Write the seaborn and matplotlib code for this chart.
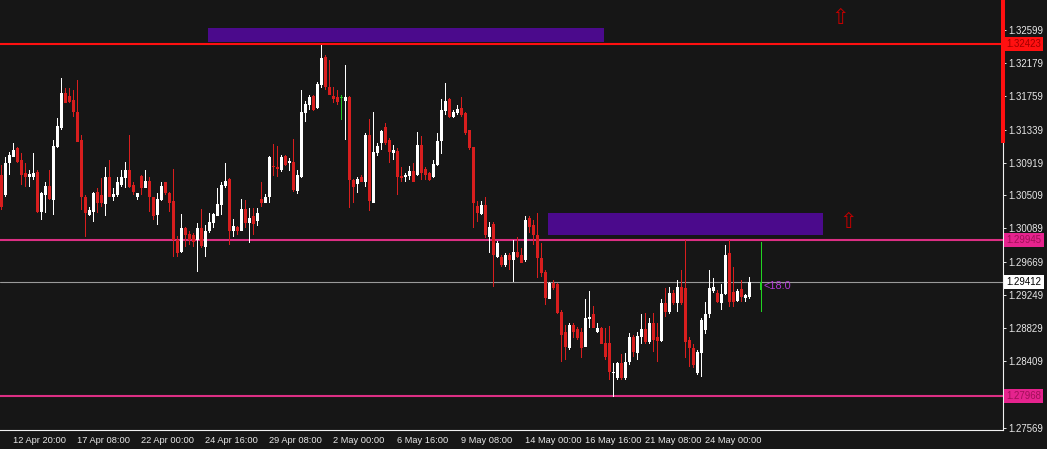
import numpy as np
import pandas as pd
import matplotlib
matplotlib.use("Agg")
import matplotlib.pyplot as plt
import matplotlib.transforms as mtransforms
from matplotlib.patches import Rectangle
import seaborn as sns

# H4 candles (open, high, low, close)
opens = [1.3077, 1.3051, 1.3092, 1.3099, 1.3111, 1.3096, 1.3079, 1.3074, 1.3074, 1.3080,
         1.3030, 1.3051, 1.3063, 1.3045, 1.3112, 1.3136, 1.3180, 1.3177, 1.3171, 1.3156,
         1.3121, 1.3048, 1.3026, 1.3030, 1.3055, 1.3051, 1.3040, 1.3074, 1.3049, 1.3051,
         1.3064, 1.3073, 1.3083, 1.3064, 1.3049, 1.3075, 1.3060, 1.3069, 1.3048, 1.3026,
         1.3045, 1.3067, 1.3054, 1.3043, 1.2994, 1.2979, 1.3010, 1.3002, 1.3000, 1.2994,
         1.3010, 1.2985, 1.3005, 1.3016, 1.3025, 1.3039, 1.3063, 1.3072, 1.3005, 1.3011,
         1.3005, 1.3034, 1.3016, 1.3025, 1.3018, 1.3046, 1.3041, 1.3048, 1.3088, 1.3087,
         1.3083, 1.3101, 1.3092, 1.3093, 1.3056, 1.3074, 1.3155, 1.3165, 1.3177, 1.3161,
         1.3190, 1.3226, 1.3188, 1.3177, 1.3175, 1.3174, 1.3170, 1.3175, 1.3070, 1.3065,
         1.3074, 1.3068, 1.3127, 1.3041, 1.3104, 1.3117, 1.3137, 1.3121, 1.3104, 1.3107,
         1.3075, 1.3074, 1.3075, 1.3082, 1.3077, 1.3115, 1.3084, 1.3079, 1.3074, 1.3089,
         1.3120, 1.3158, 1.3173, 1.3150, 1.3155, 1.3161, 1.3155, 1.3133, 1.3112, 1.3037,
         1.3027, 1.3039, 1.2998, 1.3015, 1.2973, 1.2973, 1.2963, 1.2975, 1.2969, 1.2979,
         1.2975, 1.2969, 1.3022, 1.3013, 1.3001, 1.2972, 1.2954, 1.2920, 1.2940, 1.2938,
         1.2903, 1.2878, 1.2858, 1.2887, 1.2881, 1.2878, 1.2859, 1.2894, 1.2900, 1.2878,
         1.2883, 1.2864, 1.2864, 1.2826, 1.2820, 1.2839, 1.2820, 1.2840, 1.2872, 1.2851,
         1.2872, 1.2882, 1.2865, 1.2889, 1.2872, 1.2867, 1.2915, 1.2903, 1.2927, 1.2915,
         1.2935, 1.2934, 1.2868, 1.2858, 1.2826, 1.2851, 1.2880, 1.2900, 1.2930, 1.2927,
         1.2915, 1.2926, 1.2978, 1.2929, 1.2917, 1.2932, 1.2921, 1.2922]
highs = [1.3089, 1.3099, 1.3106, 1.3117, 1.3112, 1.3104, 1.3092, 1.3083, 1.3104, 1.3083,
         1.3055, 1.3068, 1.3083, 1.3121, 1.3149, 1.3199, 1.3187, 1.3187, 1.3184, 1.3197,
         1.3127, 1.3051, 1.3036, 1.3055, 1.3060, 1.3073, 1.3087, 1.3096, 1.3060, 1.3074,
         1.3083, 1.3093, 1.3127, 1.3067, 1.3054, 1.3077, 1.3083, 1.3074, 1.3049, 1.3054,
         1.3068, 1.3068, 1.3055, 1.3084, 1.2999, 1.3027, 1.3011, 1.3005, 1.3003, 1.3016,
         1.3034, 1.3013, 1.3029, 1.3029, 1.3060, 1.3067, 1.3092, 1.3073, 1.3021, 1.3012,
         1.3046, 1.3045, 1.3035, 1.3035, 1.3035, 1.3067, 1.3053, 1.3101, 1.3116, 1.3113,
         1.3102, 1.3102, 1.3098, 1.3122, 1.3083, 1.3184, 1.3170, 1.3178, 1.3178, 1.3194,
         1.3241, 1.3228, 1.3222, 1.3188, 1.3184, 1.3178, 1.3216, 1.3177, 1.3072, 1.3074,
         1.3077, 1.3130, 1.3147, 1.3156, 1.3117, 1.3133, 1.3142, 1.3123, 1.3115, 1.3111,
         1.3086, 1.3079, 1.3088, 1.3092, 1.3131, 1.3126, 1.3087, 1.3080, 1.3096, 1.3130,
         1.3173, 1.3193, 1.3174, 1.3159, 1.3165, 1.3175, 1.3156, 1.3133, 1.3112, 1.3043,
         1.3043, 1.3049, 1.3017, 1.3017, 1.2993, 1.2975, 1.2978, 1.2978, 1.2994, 1.2998,
         1.2984, 1.3025, 1.3025, 1.3020, 1.3029, 1.2991, 1.2956, 1.2941, 1.2944, 1.2940,
         1.2906, 1.2887, 1.2889, 1.2889, 1.2884, 1.2883, 1.2919, 1.2930, 1.2911, 1.2889,
         1.2884, 1.2883, 1.2885, 1.2839, 1.2840, 1.2850, 1.2851, 1.2877, 1.2874, 1.2878,
         1.2900, 1.2902, 1.2896, 1.2902, 1.2889, 1.2920, 1.2934, 1.2935, 1.2931, 1.2944,
         1.2956, 1.2994, 1.2872, 1.2862, 1.2855, 1.2896, 1.2916, 1.2956, 1.2946, 1.2931,
         1.2938, 1.2988, 1.2994, 1.2960, 1.2932, 1.2944, 1.2926, 1.2948]
lows = [1.3032, 1.3049, 1.3077, 1.3099, 1.3092, 1.3064, 1.3061, 1.3061, 1.3070, 1.3029,
        1.3020, 1.3029, 1.3045, 1.3026, 1.3111, 1.3134, 1.3168, 1.3168, 1.3150, 1.3118,
        1.3032, 1.2998, 1.3024, 1.3017, 1.3029, 1.3036, 1.3024, 1.3048, 1.3043, 1.3049,
        1.3061, 1.3060, 1.3060, 1.3051, 1.3045, 1.3051, 1.3060, 1.3030, 1.3020, 1.3013,
        1.3043, 1.3051, 1.3030, 1.2973, 1.2973, 1.2978, 1.2985, 1.2988, 1.2985, 1.2954,
        1.2984, 1.2973, 1.3003, 1.3010, 1.3024, 1.3026, 1.3060, 1.2988, 1.2998, 1.3001,
        1.3005, 1.3010, 1.2991, 1.3001, 1.3012, 1.3036, 1.3041, 1.3041, 1.3075, 1.3074,
        1.3080, 1.3088, 1.3082, 1.3055, 1.3053, 1.3073, 1.3144, 1.3159, 1.3158, 1.3160,
        1.3187, 1.3184, 1.3178, 1.3168, 1.3165, 1.3146, 1.3121, 1.3035, 1.3041, 1.3054,
        1.3067, 1.3061, 1.3031, 1.3041, 1.3101, 1.3108, 1.3115, 1.3092, 1.3096, 1.3051,
        1.3067, 1.3067, 1.3070, 1.3067, 1.3075, 1.3070, 1.3070, 1.3069, 1.3073, 1.3088,
        1.3103, 1.3152, 1.3149, 1.3149, 1.3152, 1.3150, 1.3127, 1.3108, 1.3010, 1.3017,
        1.3026, 1.2997, 1.2978, 1.2935, 1.2972, 1.2960, 1.2960, 1.2956, 1.2941, 1.2972,
        1.2965, 1.2967, 1.3003, 1.2988, 1.2946, 1.2948, 1.2912, 1.2919, 1.2931, 1.2900,
        1.2840, 1.2843, 1.2855, 1.2870, 1.2868, 1.2845, 1.2859, 1.2883, 1.2883, 1.2877,
        1.2862, 1.2843, 1.2817, 1.2796, 1.2817, 1.2817, 1.2817, 1.2836, 1.2846, 1.2843,
        1.2862, 1.2862, 1.2862, 1.2853, 1.2840, 1.2865, 1.2897, 1.2900, 1.2912, 1.2903,
        1.2912, 1.2845, 1.2834, 1.2832, 1.2824, 1.2821, 1.2875, 1.2896, 1.2927, 1.2915,
        1.2906, 1.2925, 1.2910, 1.2910, 1.2916, 1.2916, 1.2916, 1.2919]
closes = [1.3036, 1.3092, 1.3102, 1.3108, 1.3093, 1.3077, 1.3074, 1.3078, 1.3079, 1.3030,
          1.3054, 1.3063, 1.3046, 1.3113, 1.3139, 1.3180, 1.3168, 1.3169, 1.3156, 1.3118,
          1.3048, 1.3029, 1.3032, 1.3054, 1.3041, 1.3041, 1.3074, 1.3049, 1.3053, 1.3067,
          1.3074, 1.3083, 1.3061, 1.3055, 1.3054, 1.3060, 1.3069, 1.3048, 1.3024, 1.3046,
          1.3063, 1.3054, 1.3041, 1.2994, 1.2978, 1.3010, 1.3001, 1.2994, 1.2992, 1.3010,
          1.2987, 1.3005, 1.3017, 1.3027, 1.3040, 1.3064, 1.3069, 1.3006, 1.3012, 1.3005,
          1.3034, 1.3016, 1.3022, 1.3015, 1.3029, 1.3041, 1.3049, 1.3099, 1.3086, 1.3084,
          1.3099, 1.3089, 1.3094, 1.3058, 1.3077, 1.3156, 1.3166, 1.3175, 1.3159, 1.3192,
          1.3225, 1.3188, 1.3178, 1.3172, 1.3169, 1.3174, 1.3175, 1.3070, 1.3061, 1.3072,
          1.3067, 1.3127, 1.3043, 1.3106, 1.3113, 1.3132, 1.3117, 1.3106, 1.3108, 1.3074,
          1.3073, 1.3077, 1.3082, 1.3068, 1.3115, 1.3079, 1.3077, 1.3070, 1.3090, 1.3120,
          1.3159, 1.3170, 1.3150, 1.3156, 1.3160, 1.3152, 1.3130, 1.3111, 1.3041, 1.3029,
          1.3039, 1.3001, 1.3011, 1.2975, 1.2991, 1.2962, 1.2975, 1.2969, 1.2979, 1.2973,
          1.2965, 1.3020, 1.3011, 1.3001, 1.2972, 1.2953, 1.2921, 1.2940, 1.2934, 1.2902,
          1.2874, 1.2859, 1.2887, 1.2878, 1.2870, 1.2858, 1.2896, 1.2897, 1.2883, 1.2883,
          1.2863, 1.2846, 1.2827, 1.2827, 1.2839, 1.2820, 1.2840, 1.2872, 1.2853, 1.2873,
          1.2882, 1.2865, 1.2889, 1.2868, 1.2867, 1.2915, 1.2903, 1.2927, 1.2915, 1.2935,
          1.2915, 1.2865, 1.2858, 1.2836, 1.2853, 1.2893, 1.2900, 1.2934, 1.2935, 1.2916,
          1.2926, 1.2975, 1.2916, 1.2916, 1.2930, 1.2922, 1.2924, 1.2941]

# time axis labels (bar index, label)
time_tick_bars = [3, 19, 35, 51, 67, 83, 99, 115, 131, 146, 161, 176]
time_tick_labels = ["12 Apr 20:00", "17 Apr 08:00", "22 Apr 00:00", "24 Apr 16:00",
                    "29 Apr 08:00", "2 May 00:00", "6 May 16:00", "9 May 08:00",
                    "14 May 00:00", "16 May 16:00", "21 May 08:00", "24 May 00:00"]
price_ticks = [1.32599, 1.32179, 1.31759, 1.31339, 1.30919, 1.30509, 1.30089,
               1.29669, 1.29249, 1.28829, 1.28409, 1.27569]
top_price_tick = 1.33019

# horizontal levels
resistance_level = 1.32423
upper_level = 1.29945
lower_level = 1.27968
bid_price = 1.29412

# supply zones: bar start, bar end, price low, price high
zone_a = [51.75, 150.75, 1.32448, 1.32625]
zone_b = [136.75, 205.5, 1.30005, 1.30284]
# arrows (bar, price)
arrow_a = [209.75, 1.32751]
arrow_b = [211.75, 1.30170]
# current bar marker
marker_bar = 190
marker_range = [1.2903, 1.2992]
marker_body = [1.2931, 1.2941]
timer_text = "<18:0"
red_bar_low = 1.3117

BG = "#161616"
BULL = "#ffffff"
BEAR = "#d81e1e"
DOJI = "#22c422"

sns.set_theme(style="dark", rc={"axes.facecolor": BG, "figure.facecolor": BG})
plt.rcParams["font.family"] = ["Liberation Sans", "DejaVu Sans"]

df = pd.DataFrame({"o": opens, "h": highs, "l": lows, "c": closes})
df["i"] = np.arange(len(df))

fig = plt.figure(figsize=(10.47, 4.49), dpi=100, facecolor=BG)
ax = fig.add_axes([0, 19 / 449, 1003 / 1047, 430 / 449])
ax.set_facecolor(BG)
ymin, ymax = 1.27538, 1.32979
ax.set_xlim(-0.375, 250.375)
ax.set_ylim(ymin, ymax)
onepx = (ymax - ymin) / 430

# zones
for z in (zone_a, zone_b):
    ax.add_patch(Rectangle((z[0], z[2]), z[1] - z[0], z[3] - z[2],
                           facecolor="#4b0a8c", edgecolor="none", zorder=1))

# levels
ax.axhline(resistance_level, color="#ff1010", lw=1.5, zorder=2)
ax.axhline(upper_level, color="#dc2f84", lw=1.5, zorder=2)
ax.axhline(lower_level, color="#dc2f84", lw=1.5, zorder=2)
ax.axhline(bid_price, color="#9a9a9a", lw=0.8, zorder=2)

# candles: thin bars for wicks, wider bars for bodies
up = df[df["c"] > df["o"]]
dn = df[df["c"] < df["o"]]
flat = df[df["c"] == df["o"]]
for part, col in ((up, BULL), (dn, BEAR), (flat, DOJI)):
    ax.bar(part["i"], part["h"] - part["l"], bottom=part["l"], width=0.33,
           color=col, lw=0, zorder=3)
ax.bar(up["i"], np.maximum(up["c"] - up["o"], onepx), bottom=up["o"], width=0.75,
       color=BULL, lw=0, zorder=4)
ax.bar(dn["i"], np.maximum(dn["o"] - dn["c"], onepx), bottom=dn["c"], width=0.75,
       color=BEAR, lw=0, zorder=4)
ax.bar(flat["i"], onepx, bottom=flat["o"], width=0.75, color=DOJI, lw=0, zorder=4)

# current bar marker + timer
ax.bar([marker_bar], marker_range[1] - marker_range[0], bottom=marker_range[0],
       width=0.33, color="#22d422", lw=0, zorder=5)
ax.bar([marker_bar], marker_body[1] - marker_body[0], bottom=marker_body[0], width=0.5,
       color="#22d422", lw=0, zorder=5)
ax.text(marker_bar + 0.5, (marker_body[0] + marker_body[1]) / 2, timer_text,
        color="#b23ad8", fontsize=7.8, va="center", ha="left", zorder=6)

# arrows
for a in (arrow_a, arrow_b):
    ax.text(a[0], a[1], "\u21e7", color="#c00000", fontsize=15, ha="center",
            va="center", family=["DejaVu Sans"], zorder=6)

# axes styling
sns.despine(ax=ax, left=True, top=True, right=False, bottom=False)
for side in ("right", "bottom"):
    ax.spines[side].set_color("#f0f0f0")
    ax.spines[side].set_linewidth(0.8)
ax.grid(False)
ax.yaxis.tick_right()
ax.set_yticks(price_ticks)
ax.set_yticklabels([f"{p:.5f}" for p in price_ticks])
ax.set_xticks(time_tick_bars)
ax.set_xticklabels(time_tick_labels)
plt.setp(ax.get_xticklabels(), ha="left")
ax.tick_params(axis="y", colors="#e8e8e8", length=2.2, width=0.7, pad=1.5,
               labelsize=6.9, direction="out")
ax.tick_params(axis="x", colors="#e8e8e8", length=2.5, width=0.7, pad=1.8,
               labelsize=6.7, direction="out")
ax.set_xlabel("")
ax.set_ylabel("")

# red strip on the price scale
ax.plot([1.0, 1.0], [red_bar_low, ymax], color="#ff1010", lw=2.9,
        transform=mtransforms.blended_transform_factory(ax.transAxes, ax.transData),
        clip_on=False, solid_capstyle="butt", zorder=7)

# price labels on scale
lab_tr = mtransforms.blended_transform_factory(ax.transAxes, ax.transData)
price_labels = [(resistance_level, "#ff1010", "#a00000"),
                (upper_level, "#e6238e", "#a01058"),
                (lower_level, "#e6238e", "#a01058"),
                (bid_price, "#ffffff", "#000000")]
for p, fc, tc in price_labels:
    ax.text(1.0035, p, f"{p:.5f}", transform=lab_tr, fontsize=6.9, color=tc,
            va="center", ha="left", clip_on=False, zorder=8,
            bbox=dict(boxstyle="square,pad=0.22", fc=fc, ec="none"))
ax.text(1.0055, top_price_tick, f"{top_price_tick:.5f}", transform=lab_tr,
        fontsize=6.9, color="#e8e8e8", va="center", ha="left", clip_on=False)

fig.savefig("out.png", dpi=100, facecolor=BG)
